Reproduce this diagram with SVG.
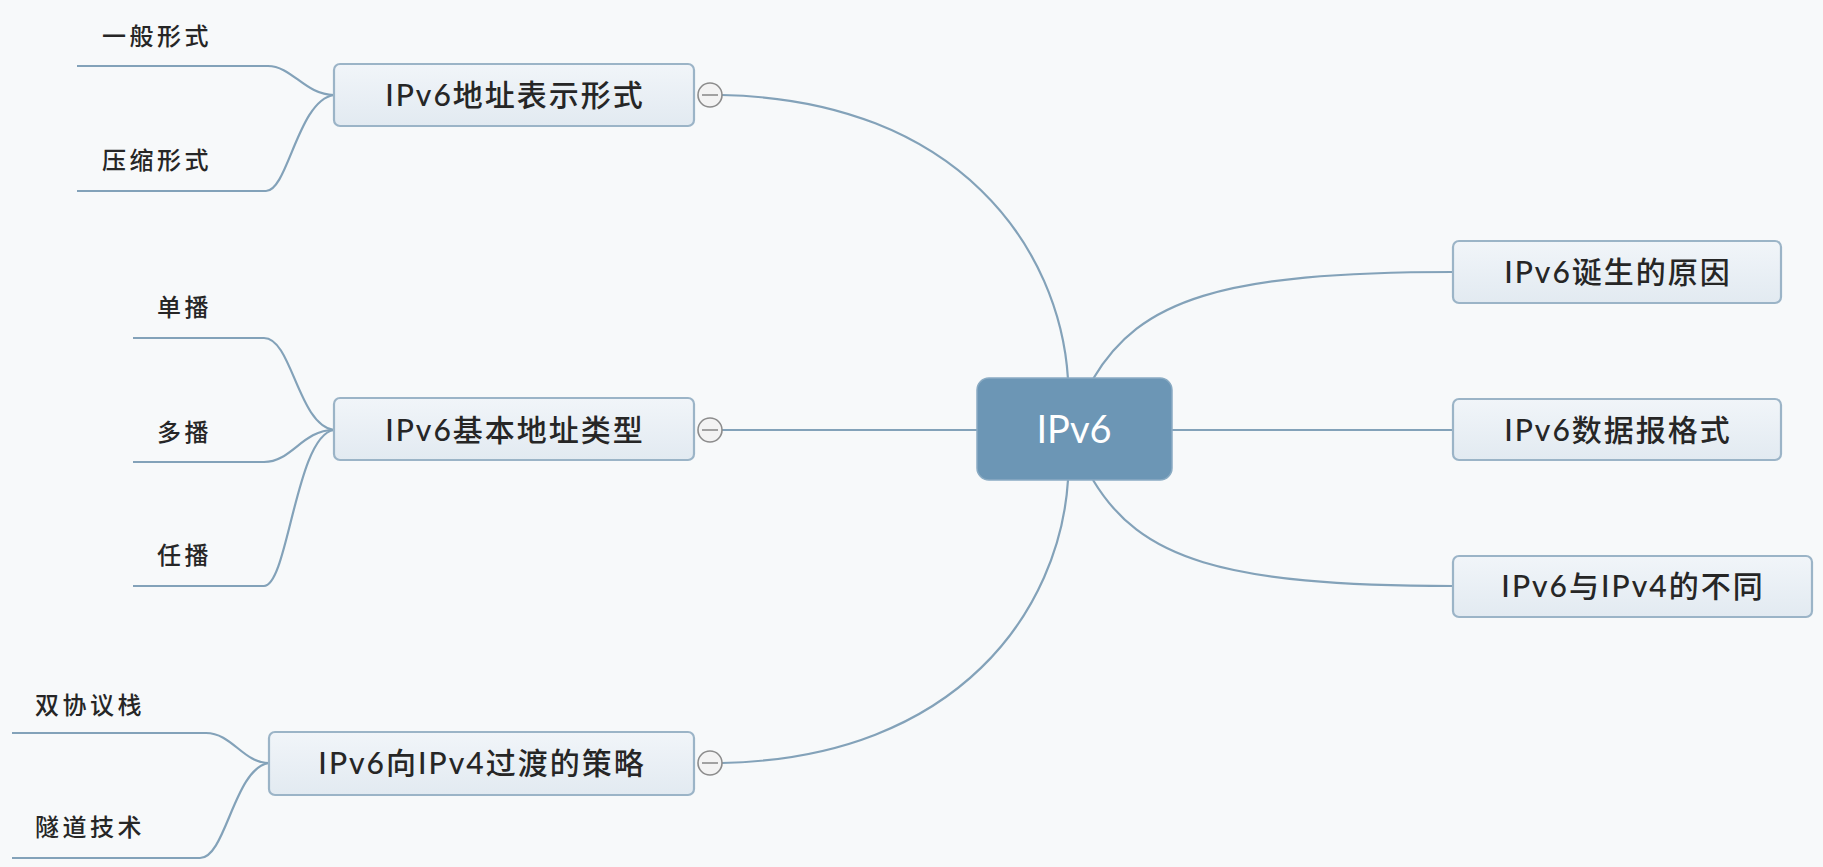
<svg xmlns="http://www.w3.org/2000/svg" width="1823" height="867" viewBox="0 0 1823 867">
<defs>
<linearGradient id="boxg" x1="0" y1="0" x2="0" y2="1">
<stop offset="0" stop-color="#f1f5f9"/>
<stop offset="1" stop-color="#e2eaf1"/>
</linearGradient>
<style>
.bg{fill:#f7f9fa}
.box{fill:url(#boxg);stroke:#9bb4c7;stroke-width:2.2}
.root{fill:#6c96b5;stroke:#8aabc3;stroke-width:1.5}
.t{font-family:Lato,"Noto Sans CJK SC",sans-serif;font-size:30px;font-weight:500;fill:#262626;text-anchor:middle;letter-spacing:2px}
.rt{font-family:Lato,"Noto Sans CJK SC",sans-serif;font-size:38px;fill:#ffffff;text-anchor:middle}
.leaf{font-family:"Noto Sans CJK SC",sans-serif;font-size:24px;font-weight:500;fill:#262626;letter-spacing:3.5px}
.c{fill:none;stroke:#83a2b9;stroke-width:2.2}
.col{fill:#f3f3f3;stroke:#8c8c8c;stroke-width:1.6}
.colm{stroke:#8c8c8c;stroke-width:1.6}
</style>
</defs>
<rect class="bg" x="0" y="0" width="1823" height="867"/>
<g id="connectors">
<path class="c" d="M 722 95 C 960 100, 1060 250, 1068 379"/>
<path class="c" d="M 722 430 H 977"/>
<path class="c" d="M 722 763 C 960 758, 1060 608, 1068 480"/>
<path class="c" d="M 1093 379 C 1140 300, 1220 272, 1453 272"/>
<path class="c" d="M 1172 430 H 1453"/>
<path class="c" d="M 1093 480 C 1140 558, 1220 586, 1453 586"/>
<path class="c" d="M 77 66 H 268 C 292 66, 305 95, 334 95"/>
<path class="c" d="M 77 191 H 266 C 288 191, 298 100, 334 95"/>
<path class="c" d="M 133 338 H 264 C 292 338, 298 425, 334 430"/>
<path class="c" d="M 133 462 H 264 C 292 462, 302 430, 334 430"/>
<path class="c" d="M 133 586 H 264 C 288 586, 296 435, 334 430"/>
<path class="c" d="M 12 733 H 206 C 232 733, 243 763, 269 763"/>
<path class="c" d="M 12 858 H 200 C 226 858, 234 768, 269 763"/>
</g>
<g id="root">
<rect class="root" x="977" y="378" width="195" height="102" rx="12"/>
<text class="rt" x="1074" y="443">IPv6</text>
</g>
<g id="n-addr-format">
<rect class="box" x="334" y="64" width="360" height="62" rx="6"/>
<text class="t" x="515" y="106">IPv6地址表示形式</text>
<circle class="col" cx="710" cy="95" r="12"/>
<line class="colm" x1="702" y1="95" x2="718" y2="95"/>
</g>
<g id="n-addr-types">
<rect class="box" x="334" y="398" width="360" height="62" rx="6"/>
<text class="t" x="515" y="441">IPv6基本地址类型</text>
<circle class="col" cx="710" cy="430" r="12"/>
<line class="colm" x1="702" y1="430" x2="718" y2="430"/>
</g>
<g id="n-transition">
<rect class="box" x="269" y="732" width="425" height="63" rx="6"/>
<text class="t" x="482" y="774">IPv6向IPv4过渡的策略</text>
<circle class="col" cx="710" cy="763" r="12"/>
<line class="colm" x1="702" y1="763" x2="718" y2="763"/>
</g>
<g id="n-origin">
<rect class="box" x="1453" y="241" width="328" height="62" rx="6"/>
<text class="t" x="1618" y="283">IPv6诞生的原因</text>
</g>
<g id="n-datagram">
<rect class="box" x="1453" y="399" width="328" height="61" rx="6"/>
<text class="t" x="1618" y="441">IPv6数据报格式</text>
</g>
<g id="n-diff">
<rect class="box" x="1453" y="556" width="359" height="61" rx="6"/>
<text class="t" x="1633" y="597">IPv6与IPv4的不同</text>
</g>
<g id="leaf-general"><text class="leaf" x="102" y="45">一般形式</text></g>
<g id="leaf-compressed"><text class="leaf" x="102" y="169">压缩形式</text></g>
<g id="leaf-unicast"><text class="leaf" x="157" y="316">单播</text></g>
<g id="leaf-multicast"><text class="leaf" x="157" y="441">多播</text></g>
<g id="leaf-anycast"><text class="leaf" x="157" y="564">任播</text></g>
<g id="leaf-dualstack"><text class="leaf" x="35" y="714">双协议栈</text></g>
<g id="leaf-tunnel"><text class="leaf" x="35" y="836">隧道技术</text></g>
</svg>
